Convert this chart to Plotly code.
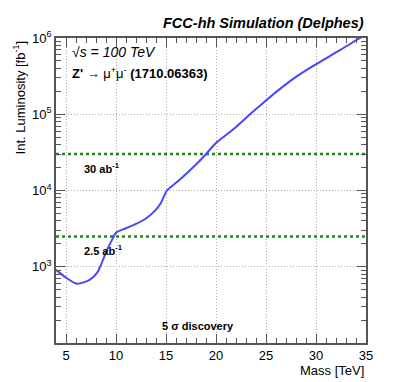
import plotly.graph_objects as go

# Z' -> mumu 5 sigma discovery reach
mass = [4, 5, 6.1, 7.4, 8.1, 8.7, 9.1, 9.6, 10, 11, 12, 13, 14, 14.5, 15.1,
        16, 16.7, 18, 18.9, 20, 21.7, 23.4, 25, 26, 28, 30, 32.4, 34.4, 35]
lumi = [910, 720, 600, 680, 830, 1230, 1650, 2250, 2800, 3200, 3650, 4300, 5600, 6900,
        10000, 12600, 15100, 21900, 29000, 42000, 63000, 100000, 151000, 195000,
        309000, 452000, 692000, 1000000, 1100000]

# reference luminosities [fb^-1]
ref_lumi = [30000, 2500]
ref_label = ["30 ab<sup>-1</sup>", "2.5 ab<sup>-1</sup>"]

x_range = [4, 35]
y_ticks = [1e3, 1e4, 1e5, 1e6]
y_ticktext = ["10<sup>3</sup>", "10<sup>4</sup>", "10<sup>5</sup>", "10<sup>6</sup>"]
y_minor = [m * 10 ** e for e in range(2, 6) for m in range(2, 10)]

font = "Liberation Sans, Arial, sans-serif"

fig = go.Figure()

for v in ref_lumi:
    fig.add_trace(go.Scatter(x=x_range, y=[v, v], mode="lines",
                             line=dict(color="#1a8a1a", width=2.5, dash="dot"),
                             hoverinfo="skip"))

fig.add_trace(go.Scatter(x=mass, y=lumi, mode="lines", line_shape="spline",
                         line=dict(color="#4646ff", width=2, smoothing=0.8)))

axis_common = dict(
    showline=True, linecolor="#555", linewidth=1.5, mirror="allticks",
    ticks="inside", tickcolor="#555", tickwidth=1.2,
    showgrid=True, gridcolor="#aaa", griddash="1px,2px", gridwidth=1,
    zeroline=False, automargin=False,
    tickfont=dict(family=font, size=13, color="black"),
)

fig.update_xaxes(
    range=x_range, dtick=5, tick0=0, ticklen=9,
    minor=dict(ticks="inside", ticklen=5, dtick=1, tickcolor="#555", showgrid=False),
    **axis_common,
)
fig.update_yaxes(
    type="log", range=[2, 6], tickvals=y_ticks, ticktext=y_ticktext, ticklen=9,
    minor=dict(ticks="inside", ticklen=5, tickvals=y_minor, tickcolor="#555", showgrid=False),
    **axis_common,
)

ann = [
    dict(x=1, y=1.015, xanchor="right", yanchor="bottom",
         text="<b><i>FCC-hh Simulation (Delphes)</i></b>", font=dict(size=14.5)),
    dict(x=0.045, y=0.955, xanchor="left", yanchor="middle",
         text="<i>√s = 100 TeV</i>", font=dict(size=14)),
    dict(x=0.045, y=0.885, xanchor="left", yanchor="middle",
         text="<b>Z'</b> → μ<sup>+</sup>μ<sup>-</sup> <b>(1710.06363)</b>", font=dict(size=13)),
    dict(x=0.085, y=0.575, xanchor="left", yanchor="middle",
         text="<b>" + ref_label[0] + "</b>", font=dict(size=11)),
    dict(x=0.085, y=0.305, xanchor="left", yanchor="middle",
         text="<b>" + ref_label[1] + "</b>", font=dict(size=11)),
    dict(x=0.335, y=0.055, xanchor="left", yanchor="middle",
         text="<b>5 σ discovery</b>", font=dict(size=11)),
    dict(x=1, y=-0.058, xanchor="right", yanchor="top",
         text="Mass [TeV]", font=dict(size=13)),
    dict(x=-0.118, y=1, xanchor="center", yanchor="top",
         text="Int. Luminosity [fb<sup>-1</sup>]", textangle=-90, font=dict(size=13)),
]
for a in ann:
    a["xref"] = "paper"
    a["yref"] = "paper"
    a["showarrow"] = False
    a["font"]["family"] = font
    a["font"]["color"] = "black"
    fig.add_annotation(**a)

# the page body puts the figure 8px in from the corner, so it is a bit smaller than the window
fig.update_layout(
    width=391, height=374,
    margin=dict(l=48, r=33, t=30, b=39),
    plot_bgcolor="white", paper_bgcolor="white",
    showlegend=False,
)

fig.write_html("out.html")
